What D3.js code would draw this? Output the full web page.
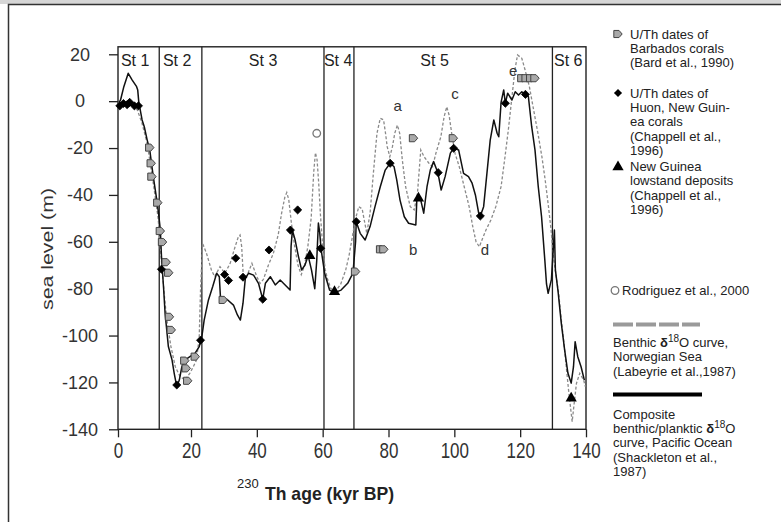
<!DOCTYPE html>
<html>
<head>
<meta charset="utf-8">
<script src="https://cdn.jsdelivr.net/npm/d3@7"></script>
<style>
body { margin: 0; background: #fff; }
svg { display: block; font-family: "Liberation Sans", Arial, sans-serif; }
</style>
</head>
<body>
<svg id="chart" width="781" height="522"></svg>
<script>
// Composite benthic/planktic curve, Pacific (Shackleton) - [age kyr, sea level m]
const shackleton = [
  [0.3,-0.5],[0.7,0.5],[1.6,6.2],[2.8,11.9],[3.9,9],[5.1,6.2],[5.4,4.8],[5.7,-0.5],[6,-3],[6.6,-8],
  [7.2,-10.9],[8,-16.6],[8.7,-20.8],[9.3,-28],[9.8,-33.6],[10.5,-40.8],[11.1,-47.8],[11.6,-54.9],
  [11.9,-66],[12.5,-80],[12.9,-90.5],[13.8,-104.7],[14.8,-110.4],[15.4,-116.1],[16.1,-121.8],
  [16.8,-119],[17.5,-113.3],[18.4,-110.4],[19.7,-109],[21.2,-107.6],[22.5,-104.7],[23.3,-100.5],
  [24,-93.4],[25.3,-84.8],[26.6,-79.1],[27.8,-73.4],[28.6,-74.9],[29,-84.8],[30.9,-84.5],[32.9,-87],
  [34.1,-91.2],[35,-93.4],[35.8,-86.2],[36.5,-75.6],[37.5,-73.4],[39,-74.2],[40.5,-77.7],[41.8,-84.5],
  [42.6,-77.7],[44.1,-74.9],[45.6,-78.4],[47.1,-76.3],[48.6,-78.4],[50.1,-80.6],[50.4,-62],[50.8,-55],
  [51.6,-59],[52.6,-66],[53.6,-72],[54.6,-70],[55.6,-66],[56.6,-72],[57.6,-80],[58.2,-68],[58.7,-52],
  [59.1,-56],[59.5,-63],[60.6,-73.4],[62.1,-80.6],[63.6,-81.7],[65.6,-80.6],[67.6,-77.7],[69.2,-73.4],
  [70,-60],[70.2,-51.4],[71.4,-56.4],[72.9,-59.2],[74.4,-53.5],[75.9,-45],[77.5,-36.5],[79,-29.4],
  [80.5,-26.5],[81.7,-28],[82.5,-33.6],[83.5,-42.2],[84.8,-49.3],[86.1,-52.1],[88.3,-52.8],[88.6,-42.2],
  [89.1,-41.4],[89.8,-42.2],[90.7,-47.8],[91.7,-36.5],[92.7,-29.4],[93.7,-25.8],[95,-30.5],[96,-37.9],
  [97.2,-32.2],[98.8,-22.2],[99.8,-20.1],[101.3,-20.8],[102.8,-30.8],[104.3,-32.2],[105.4,-35],
  [106.4,-40],[107.4,-47.8],[107.9,-49],[108.9,-45],[109.9,-30.8],[110.9,-16.6],[112,-8],[113,-13.7],
  [113.5,-15.2],[114.2,-0.5],[115,4.8],[115.5,-0.9],[116.2,3.4],[117.5,0.5],[118.5,4],[119.5,2.6],
  [120.5,4],[121.5,2.9],[122.5,1.9],[123.5,-10.9],[124.5,-20.8],[125.5,-36.5],[126.5,-49.3],[127.5,-68],
  [128,-78],[128.5,-82],[129.5,-76],[130.1,-62],[130.4,-55],[130.7,-72],[131.5,-81],[132.5,-94.8],
  [133.5,-106],[134.5,-116],[135.5,-120.3],[136.2,-113.3],[136.7,-102.6],[137.5,-109],[138.5,-113.3],
  [139.5,-119]
];

// Benthic curve, Norwegian Sea (Labeyrie) - dashed
const labeyrie = [
  [0,-1],[2,-1],[4,-1.5],[5.3,-3.8],[6.5,-9],[8,-18],[9.8,-36.5],[11,-50],[11.5,-60],[12.1,-72],
  [12.9,-86.2],[13.4,-93.4],[14.5,-104.7],[15.7,-113.3],[17,-117.5],[18.4,-119],[19.7,-116],
  [20.7,-113.3],[21.7,-110.4],[22.5,-100.5],[22.9,-80.6],[23.5,-60.6],[24.7,-64.9],[26.2,-72],
  [27.2,-74.9],[28.8,-70.6],[30.3,-73.4],[31.9,-69.2],[33.4,-62.1],[34.4,-57.8],[34.9,-57.1],
  [35.4,-62.1],[35.9,-74.9],[36.9,-74.9],[38.5,-69.2],[40,-74.9],[41,-77.7],[42,-76],[43.5,-70],
  [45,-65],[46.5,-57],[47.5,-48],[48.5,-41],[49.1,-39],[49.7,-42],[50.5,-52],[51.5,-62],[52.5,-70],
  [53.5,-74],[54.5,-70],[55.5,-62],[56.5,-50],[57.3,-30],[57.8,-22],[58.3,-25],[58.8,-35],[59.3,-48],
  [60,-62],[60.8,-72],[61.5,-76],[62.5,-80],[64,-81],[65.5,-78],[67,-72],[68,-66],[69,-58],[70,-50],
  [71,-45],[72,-46],[73.4,-56.4],[74.4,-47.8],[75.4,-30.8],[76.5,-13.7],[77.5,-7.3],[78.5,-8],
  [79.1,-13.7],[79.6,-19.4],[80.4,-23.7],[81.2,-19.4],[81.9,-13.7],[82.7,-10.2],[83.4,-13.7],
  [84.2,-25.1],[85.2,-36.5],[86.6,-45],[87.8,-46.4],[88.8,-39.3],[89.8,-20.8],[90.8,-23.7],
  [92.3,-26.5],[93.4,-28],[94.4,-22.2],[95.9,-15.2],[96.9,-6.6],[97.7,-2.4],[98.4,-5.9],[99.2,-13.7],
  [100.2,-22.2],[101.5,-28],[103,-36.5],[104.5,-45],[105.6,-53.5],[106.6,-60],[107.6,-62.1],
  [108.6,-58.5],[109.6,-55],[111.1,-50.7],[112.6,-45],[114.2,-36.5],[115.4,-23.7],[116.4,-12.3],
  [117.4,0.5],[118.4,13.3],[119.2,19.7],[120.5,18.3],[121.5,13.3],[122.8,6.2],[124.1,-3.8],
  [125.4,-13.7],[126.6,-23.7],[127.6,-33.6],[128.6,-45],[129.4,-55],[130,-64.9],[130.5,-70.6],
  [131.7,-82],[132.4,-92],[133.2,-101.9],[134,-113.3],[134.7,-123.2],[135.5,-133.2],[135.8,-136.7],
  [136.3,-130.3],[137.1,-120.4],[138.1,-116.1],[139.3,-119],[139.8,-121.8]
];

// U/Th dates of Barbados corals (Bard et al., 1990)
const barbados = [
  [8.7,-19.8],[9.1,-26.5],[9.3,-32.2],[10.9,-43.3],[11.6,-55.4],[12.2,-60.1],[13.2,-68.7],[13.9,-73.2],
  [14.1,-92],[14.6,-97.6],[18.3,-110.7],[18.7,-114],[19.1,-119.3],[21.3,-109],[29.8,-84.8],
  [70,-72.7],[77.6,-63.2],[78.6,-63.2],[87.6,-15.8],[99.7,-15.8],
  [120.5,9.8],[121.8,9.8],[123.2,9.8],[124.5,9.8]
];

// U/Th dates of Huon, New Guinea corals (Chappell et al., 1996)
const huon = [
  [0.5,-2],[1.5,-1],[2.5,-1.5],[3.2,-0.5],[4.5,-2],[5.6,-2],[11.9,-71.7],[16.1,-121.1],[22.9,-102],
  [30.2,-74],[31.4,-76.5],[33.6,-67],[35.8,-75.1],[41.8,-84.5],[43.7,-63.5],[50.2,-55],[52.4,-46.4],
  [59.4,-62.8],[70.2,-51.4],[80.5,-26.5],[95.1,-30.5],[99.8,-20.1],[107.9,-49],[115.5,-0.9],[121.6,2.9]
];

// New Guinea lowstand deposits
const lowstand = [[56.1,-66],[63.6,-81.3],[89.1,-41.4],[135.5,-126.8]];

// Rodriguez et al., 2000
const rodriguez = [[58.2,-13.7]];

// Isotope stage boundaries and labels
const stageBounds = [11.3, 23.3, 60.4, 69.5, 129.8];
const stageNames = ['St 1', 'St 2', 'St 3', 'St 4', 'St 5', 'St 6'];
const stageLabelAge = [4.7, 16.2, 41.9, 64.7, 94.0, 134.6];

// Peak letters
const peakLetters = ['a', 'b', 'c', 'd', 'e'];
const peakAge = [82.8, 87.5, 100.2, 109.3, 117.9];
const peakLevel = [-2.1, -63.2, 3.1, -63.2, 13];

const xTicks = [0, 20, 40, 60, 80, 100, 120, 140];
const yTicks = [20, 0, -20, -40, -60, -80, -100, -120, -140];

const svg = d3.select('#chart');
const W = 781, H = 522;

// outer frame of the figure
svg.append('rect').attr('width', W).attr('height', H).attr('fill', '#fff');
svg.append('rect').attr('width', W).attr('height', 4).attr('fill', '#d6d6d6');
svg.append('path').attr('d', `M8.5,${H} V4.5 H${W}`).attr('fill', 'none')
  .attr('stroke', '#333').attr('stroke-width', 1.5);

// scales (the original axis is drawn a little unevenly between 0 and 20)
const x = d3.scaleLinear().domain([0, 20, 140]).range([118, 191, 586]);
const y = d3.scaleLinear().domain([-140, 20]).range([429.3, 54.3]);
const yTop = 23.2;

const ink = '#222';
const plain = d => String(d); // keep ascii hyphen for negatives

// y axis
const gy = svg.append('g').attr('transform', 'translate(118,0)')
  .call(d3.axisLeft(y).tickValues(yTicks).tickFormat(plain).tickSize(9).tickSizeOuter(0));
gy.select('.domain').remove();
gy.selectAll('line').attr('stroke', ink).attr('stroke-width', 1.3);
gy.selectAll('text').attr('text-anchor', 'middle').attr('x', -38)
  .attr('font-size', 18).attr('font-family', '"Liberation Sans", Arial, sans-serif').attr('fill', '#333');

// x axis (labels in the original are tall and narrow)
const gx = svg.append('g').attr('transform', 'translate(0,429.3)')
  .call(d3.axisBottom(x).tickValues(xTicks).tickFormat(plain).tickSize(8).tickSizeOuter(0));
gx.select('.domain').remove();
gx.selectAll('line').attr('stroke', ink).attr('stroke-width', 1.3);
gx.selectAll('text').attr('font-size', 17).attr('y', 9.8).attr('transform', 'scale(1,1.3)')
  .attr('font-family', '"Liberation Sans", Arial, sans-serif').attr('fill', '#333');

// plot frame
svg.append('rect')
  .attr('x', x(0)).attr('y', y(yTop))
  .attr('width', x(140) - x(0)).attr('height', y(-140) - y(yTop))
  .attr('fill', 'none').attr('stroke', ink).attr('stroke-width', 1.4);

// stage boundaries
svg.selectAll('.stage-line').data(stageBounds).enter().append('line')
  .attr('x1', d => x(d)).attr('x2', d => x(d))
  .attr('y1', y(yTop)).attr('y2', y(-140))
  .attr('stroke', ink).attr('stroke-width', 1.3);

svg.selectAll('.stage-label').data(stageNames).enter().append('text')
  .attr('x', (d, i) => x(stageLabelAge[i])).attr('y', 66)
  .attr('text-anchor', 'middle').attr('font-size', 16).attr('fill', ink)
  .text(d => d);

// curves
const line = d3.line().x(d => x(d[0])).y(d => y(d[1]));

svg.append('path').datum(labeyrie).attr('d', line)
  .attr('fill', 'none').attr('stroke', '#8a8a8a').attr('stroke-width', 1.3)
  .attr('stroke-dasharray', '3,2');

svg.append('path').datum(shackleton).attr('d', line)
  .attr('fill', 'none').attr('stroke', '#111').attr('stroke-width', 1.5)
  .attr('stroke-linejoin', 'round');

// marker shapes
const houseSymbol = {
  draw(ctx, size) {
    const r = Math.sqrt(size) / 2;
    ctx.moveTo(-r, -r * 0.85);
    ctx.lineTo(r * 0.25, -r * 0.85);
    ctx.lineTo(r, 0);
    ctx.lineTo(r * 0.25, r * 0.85);
    ctx.lineTo(-r, r * 0.85);
    ctx.closePath();
  }
};
const symBarbados = d3.symbol().type(houseSymbol).size(70);
const symHuon = d3.symbol().type(d3.symbolDiamond2).size(42);
const symTri = d3.symbol().type(d3.symbolTriangle).size(55);
const symRod = d3.symbol().type(d3.symbolCircle).size(45);

svg.selectAll('.barbados').data(barbados).enter().append('path')
  .attr('d', symBarbados)
  .attr('transform', d => `translate(${x(d[0])},${y(d[1])})`)
  .attr('fill', '#a9a9a9').attr('stroke', '#444').attr('stroke-width', 1);

svg.selectAll('.huon').data(huon).enter().append('path')
  .attr('d', symHuon)
  .attr('transform', d => `translate(${x(d[0])},${y(d[1])})`)
  .attr('fill', '#000').attr('stroke', '#000').attr('stroke-width', 0.8);

svg.selectAll('.lowstand').data(lowstand).enter().append('path')
  .attr('d', symTri)
  .attr('transform', d => `translate(${x(d[0])},${y(d[1])})`)
  .attr('fill', '#000');

svg.selectAll('.rod').data(rodriguez).enter().append('path')
  .attr('d', symRod)
  .attr('transform', d => `translate(${x(d[0])},${y(d[1])})`)
  .attr('fill', '#fff').attr('stroke', '#777').attr('stroke-width', 1.3);

// peak letters
svg.selectAll('.peak').data(peakLetters).enter().append('text')
  .attr('x', (d, i) => x(peakAge[i])).attr('y', (d, i) => y(peakLevel[i]))
  .attr('dy', '0.35em').attr('text-anchor', 'middle')
  .attr('font-size', 15).attr('fill', '#333')
  .text(d => d);

// axis titles
svg.append('text')
  .attr('transform', 'translate(47,249) rotate(-90)')
  .attr('text-anchor', 'middle').attr('dy', '0.35em')
  .attr('font-size', 17).attr('fill', '#333')
  .attr('textLength', 122).attr('lengthAdjust', 'spacingAndGlyphs')
  .text('sea level (m)');

svg.append('text').attr('x', 237).attr('y', 488)
  .attr('font-size', 13).attr('fill', ink).text('230');
svg.append('text').attr('x', 265).attr('y', 500)
  .attr('font-size', 19).attr('font-weight', 'bold').attr('fill', ink)
  .attr('textLength', 129).attr('lengthAdjust', 'spacingAndGlyphs')
  .text('Th age (kyr BP)');

// legend
const legend = svg.append('g').attr('font-size', 13).attr('fill', '#222');

function legendLines(x0, y0, lines) {
  const t = legend.append('text').attr('x', x0).attr('y', y0);
  lines.forEach((l, i) => {
    const ts = t.append('tspan').attr('x', x0).attr('y', y0 + i * 14.4);
    if (Array.isArray(l)) {
      ts.text(l[0]);
      ts.append('tspan').attr('font-weight', 'bold').text('δ');
      ts.append('tspan').attr('font-size', 10).attr('dy', -5).text('18');
      ts.append('tspan').attr('dy', 5).text(l[1]);
    } else {
      ts.text(l);
    }
  });
}

legend.append('path').attr('d', symBarbados).attr('transform', 'translate(618,34)')
  .attr('fill', '#a9a9a9').attr('stroke', '#444');
legendLines(630, 38.5, ['U/Th dates of', 'Barbados corals', '(Bard et al., 1990)']);

legend.append('path').attr('d', symHuon).attr('transform', 'translate(618,93)').attr('fill', '#000');
legendLines(630, 97.5, ['U/Th dates of', 'Huon, New Guin-', 'ea corals', '(Chappell et al.,', '1996)']);

legend.append('path').attr('d', symTri).attr('transform', 'translate(618,167)').attr('fill', '#000');
legendLines(630, 171, ['New Guinea', 'lowstand deposits', '(Chappell et al.,', '1996)']);

legend.append('path').attr('d', symRod).attr('transform', 'translate(615,290.5)')
  .attr('fill', '#fff').attr('stroke', '#777').attr('stroke-width', 1.3);
legendLines(622, 295, ['Rodriguez et al., 2000']);

legend.append('line').attr('x1', 613).attr('x2', 700).attr('y1', 324.5).attr('y2', 324.5)
  .attr('stroke', '#9a9a9a').attr('stroke-width', 4).attr('stroke-dasharray', '20,3');
legendLines(613, 347, [['Benthic ', 'O curve,'], 'Norwegian Sea', '(Labeyrie et al.,1987)']);

legend.append('line').attr('x1', 613).attr('x2', 702).attr('y1', 394.5).attr('y2', 394.5)
  .attr('stroke', '#000').attr('stroke-width', 4);
legendLines(613, 418.5, ['Composite', ['benthic/planktic ', 'O'], 'curve, Pacific Ocean', '(Shackleton et al.,', '1987)']);
</script>
</body>
</html>
